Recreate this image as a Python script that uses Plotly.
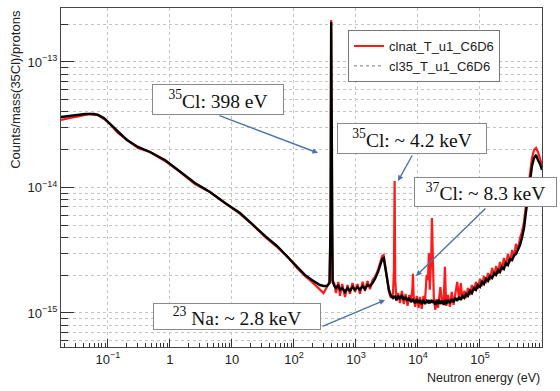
import plotly.graph_objects as go

# Neutron energy bins (eV), shared by both spectra
energy_ev = [
    0.0175, 0.020, 0.0244, 0.030, 0.0353, 0.043, 0.0513, 0.060, 0.069, 0.0862,
    0.108, 0.145, 0.202, 0.305, 0.476, 0.83, 1.45, 2.53, 4.42, 7.71,
    13.5, 21.8, 34.1, 53.2, 80, 112, 150, 195, 262, 300,
    340, 375, 390, 398, 406, 420, 450, 476, 520, 552,
    600, 665, 730, 800, 880, 964, 1060, 1160, 1280, 1397,
    1530, 1682, 1850, 2025, 2264, 2450, 2650, 2800, 2950, 3162,
    3400, 3670, 3950, 4100, 4200, 4300, 4500, 4800, 5128, 5500,
    5900, 6300, 6800, 7200, 7700, 8100, 8300, 8500, 9000, 9600,
    10200, 10800, 11500, 12300, 13000, 13800, 14500, 15000, 15500, 16300,
    16800, 17300, 18000, 19000, 20000, 21000, 22000, 23000, 24500, 26000,
    27200, 28500, 30500, 32800, 35000, 37500, 40000, 43000, 46000, 49000,
    52000, 56000, 60000, 64000, 69000, 74000, 80000, 86000, 92000, 100000,
    108000, 116000, 125000, 135000, 145000, 157000, 170000, 182000, 196000, 210000,
    226000, 243000, 262000, 282000, 305000, 330000, 355000, 380000, 410000, 442000,
    475000, 513000, 552000, 594000, 640000, 690000, 743000, 800000, 861000, 929000,
    1000000,
]

# Counts/mass(35Cl)/protons, in units of 1e-15
clnat_counts = [
    34.50, 35.14, 35.80, 36.46, 37.13, 37.82, 38.52, 37.82, 37.82, 35.14,
    32.06, 27.19, 23.90, 20.64, 19.18, 16.26, 13.29, 10.66, 9.21, 7.52,
    6.15, 5.03, 4.03, 3.36, 2.79, 2.28, 1.97, 1.77, 1.53, 1.44,
    1.61, 1.77, 6.04, 216.0, 6.62, 1.83, 1.70, 1.44, 1.77, 1.37,
    1.70, 1.34, 1.67, 1.42, 1.73, 1.47, 1.70, 1.42, 1.77, 1.50,
    1.80, 1.55, 1.83, 1.94, 2.20, 2.55, 2.85, 2.90, 2.50, 1.90,
    1.47, 1.32, 1.42, 2.20, 11.27, 1.83, 1.25, 1.44, 1.20, 1.50,
    1.18, 1.42, 1.14, 1.39, 1.27, 1.53, 2.05, 1.39, 1.12, 1.37,
    1.10, 1.34, 1.08, 1.37, 1.27, 2.01, 1.83, 3.01, 1.53, 2.64,
    5.71, 2.20, 1.32, 1.06, 1.29, 1.10, 1.37, 1.61, 1.20, 1.27,
    2.33, 1.14, 1.39, 1.12, 1.47, 1.16, 1.42, 1.77, 1.27, 1.73,
    1.29, 1.50, 1.32, 1.58, 1.39, 1.67, 1.50, 1.77, 1.55, 1.87,
    1.64, 1.97, 1.73, 2.08, 1.83, 2.28, 1.97, 2.37, 2.05, 2.55,
    2.20, 2.74, 2.37, 2.95, 2.55, 3.18, 2.79, 3.55, 3.18, 3.96,
    4.42, 5.31, 7.26, 9.91, 13.29, 17.18, 19.90, 20.64, 19.18, 17.18,
    15.11,
]

cl35_counts = [
    36.46, 36.80, 37.13, 37.47, 37.82, 38.52, 38.52, 38.52, 37.82, 35.80,
    32.06, 27.68, 23.90, 21.02, 19.18, 16.56, 13.29, 10.86, 9.21, 7.52,
    6.26, 5.03, 4.11, 3.42, 2.79, 2.33, 2.01, 1.83, 1.67, 1.64,
    1.64, 1.73, 5.51, 208.0, 5.51, 1.77, 1.64, 1.58, 1.67, 1.53,
    1.58, 1.47, 1.58, 1.50, 1.61, 1.53, 1.61, 1.53, 1.64, 1.55,
    1.67, 1.64, 1.73, 1.87, 2.12, 2.41, 2.69, 2.74, 2.37, 1.83,
    1.53, 1.37, 1.32, 1.37, 1.32, 1.34, 1.27, 1.37, 1.29, 1.39,
    1.27, 1.34, 1.25, 1.32, 1.22, 1.27, 1.29, 1.25, 1.20, 1.29,
    1.20, 1.27, 1.18, 1.27, 1.18, 1.25, 1.22, 1.27, 1.20, 1.25,
    1.27, 1.20, 1.25, 1.16, 1.25, 1.18, 1.27, 1.18, 1.25, 1.16,
    1.27, 1.18, 1.27, 1.20, 1.29, 1.22, 1.32, 1.25, 1.34, 1.27,
    1.37, 1.32, 1.42, 1.37, 1.50, 1.44, 1.58, 1.53, 1.67, 1.61,
    1.77, 1.70, 1.87, 1.80, 1.97, 1.90, 2.08, 2.01, 2.20, 2.12,
    2.33, 2.24, 2.50, 2.41, 2.69, 2.64, 2.90, 2.95, 3.24, 3.48,
    3.96, 4.76, 6.38, 8.72, 11.91, 14.84, 17.18, 18.16, 16.56, 15.39,
    13.79,
]
COUNT_UNIT = 1e-15

series_names = ["clnat_T_u1_C6D6", "cl35_T_u1_C6D6"]

x_tick_vals = [0.1, 1, 10, 100, 1e3, 1e4, 1e5]
x_tick_text = ["10<sup>−1</sup>", "1", "10", "10<sup>2</sup>", "10<sup>3</sup>",
               "10<sup>4</sup>", "10<sup>5</sup>"]
y_tick_vals = [1e-15, 1e-14, 1e-13]
y_tick_text = ["10<sup>−15</sup>", "10<sup>−14</sup>", "10<sup>−13</sup>"]

y_minor_vals = [m * 10.0 ** e for e in (-16, -15, -14, -13) for m in range(2, 10)]
x_minor_vals = [m * 10.0 ** e for e in range(-2, 6) for m in range(2, 10)]

fig = go.Figure()

fig.add_trace(go.Scatter(
    x=energy_ev, y=[v * COUNT_UNIT for v in clnat_counts],
    mode="lines", line=dict(color="#ff1a1a", width=2.2),
    showlegend=False,
))
fig.add_trace(go.Scatter(
    x=energy_ev, y=[v * COUNT_UNIT for v in cl35_counts],
    mode="lines", line=dict(color="#000000", width=2.4),
    showlegend=False,
))

# legend entries
fig.add_trace(go.Scatter(x=[None], y=[None], mode="lines", name=series_names[0],
                         line=dict(color="#ff1a1a", width=2)))
fig.add_trace(go.Scatter(x=[None], y=[None], mode="lines", name=series_names[1],
                         line=dict(color="#777777", width=1, dash="dot")))

grid_style = dict(gridcolor="#c4c4c4", griddash="dot", gridwidth=1)

fig.update_xaxes(
    type="log", range=[-1.757, 6.0],
    tickmode="array", tickvals=x_tick_vals, ticktext=x_tick_text,
    ticks="inside", ticklen=8, tickcolor="#333", tickwidth=1,
    showline=True, linecolor="#444", linewidth=1, mirror=True,
    showgrid=True, **grid_style,
    minor=dict(tickmode="array", tickvals=x_minor_vals, ticks="inside",
               ticklen=4, tickcolor="#333", showgrid=False),
    tickfont=dict(family="Liberation Sans", size=13, color="#222"),
    zeroline=False,
)
fig.update_yaxes(
    type="log", range=[-15.271, -12.570],
    tickmode="array", tickvals=y_tick_vals, ticktext=y_tick_text,
    ticks="inside", ticklen=13, tickcolor="#333", tickwidth=1,
    showline=True, linecolor="#444", linewidth=1, mirror=True,
    showgrid=True, **grid_style,
    minor=dict(tickmode="array", tickvals=y_minor_vals, ticks="inside",
               ticklen=7, tickcolor="#333", showgrid=True,
               gridcolor="#c4c4c4", griddash="dot", gridwidth=1),
    tickfont=dict(family="Liberation Sans", size=13, color="#222"),
    zeroline=False,
)

# axis titles
fig.add_annotation(text="Neutron energy (eV)", xref="paper", yref="paper",
                   x=1.0, y=-0.091, xanchor="right", yanchor="middle",
                   showarrow=False,
                   font=dict(family="Liberation Sans", size=12.5, color="#222"))
fig.add_annotation(text="Counts/mass(35Cl)/protons", xref="paper", yref="paper",
                   x=-0.095, y=1.0, xanchor="center", yanchor="top",
                   textangle=-90, showarrow=False,
                   font=dict(family="Liberation Sans", size=13, color="#222"))

# resonance labels
label_font = dict(family="Liberation Serif", size=19.5, color="#111")
boxes = [
    ("<sup>35</sup>Cl: 398 eV", 0.3264, 0.7301, 130, 29),
    ("<sup>35</sup>Cl: ~ 4.2 keV", 0.7297, 0.6150, 148, 29),
    ("<sup>37</sup>Cl: ~ 8.3 keV", 0.8825, 0.4572, 141, 28),
    ("<sup>23</sup> Na: ~ 2.8 keV", 0.3659, 0.0900, 166, 25),
]
for text, bx, by, w, h in boxes:
    fig.add_annotation(text=text, xref="paper", yref="paper", x=bx, y=by,
                       xanchor="center", yanchor="middle", showarrow=False,
                       width=w, height=h, align="center", valign="middle",
                       bgcolor="white", bordercolor="#8a8a8a", borderwidth=1,
                       borderpad=0, font=label_font)

arrows = [
    (0.5343, 0.5723, -100, -38),
    (0.7006, 0.4897, 15, -27),
    (0.7380, 0.2094, 71, -69),
    (0.6736, 0.1386, -64, 27),
]
for hx, hy, ax, ay in arrows:
    fig.add_annotation(text="", xref="paper", yref="paper", x=hx, y=hy,
                       ax=ax, ay=ay, showarrow=True, arrowhead=2,
                       arrowsize=0.8, arrowwidth=1.4, arrowcolor="#4a72b0")

fig.update_layout(
    width=560, height=391,
    margin=dict(l=61, r=18, t=8, b=44),
    paper_bgcolor="white", plot_bgcolor="white",
    showlegend=True,
    legend=dict(x=0.5967, y=0.935, xanchor="left", yanchor="top",
                bgcolor="white", bordercolor="#777", borderwidth=1,
                font=dict(family="Liberation Sans", size=13, color="#222"),
                itemwidth=30, tracegroupgap=0),
)

fig.write_html("out.html")
